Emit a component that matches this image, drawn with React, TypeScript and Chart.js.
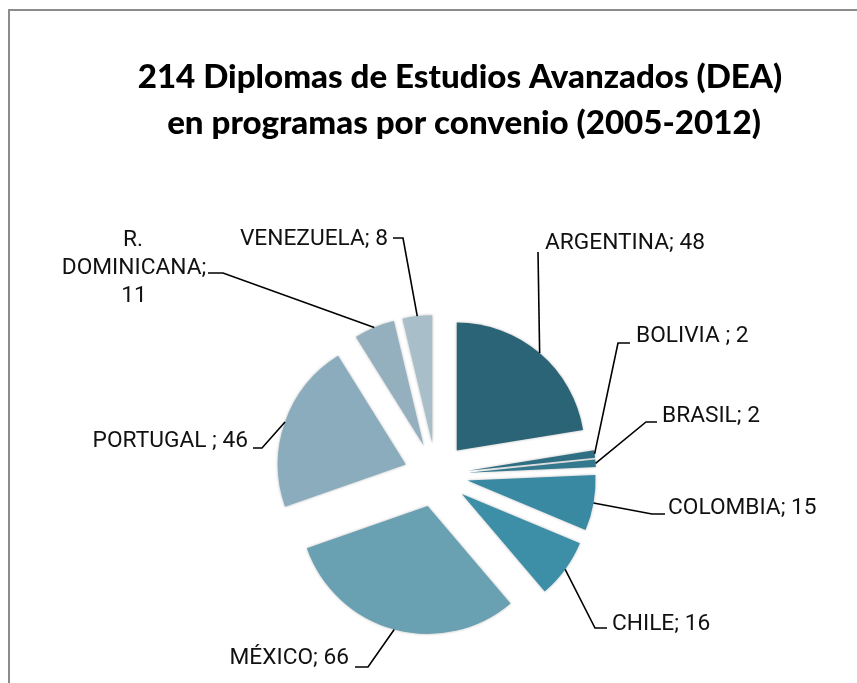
import React, { useEffect, useRef } from "react";
import { Chart, registerables } from "chart.js";

Chart.register(...registerables);

const titleLines = [
  "214 Diplomas de Estudios Avanzados (DEA)",
  "en programas por convenio (2005-2012)",
];
const categories = [
  "ARGENTINA",
  "BOLIVIA ",
  "BRASIL",
  "COLOMBIA",
  "CHILE",
  "MÉXICO",
  "PORTUGAL ",
  "R. DOMINICANA",
  "VENEZUELA",
];
const values = [48, 2, 2, 15, 16, 66, 46, 11, 8];
const colors = [
  "#2b6477",
  "#2f6f83",
  "#33788d",
  "#3a89a2",
  "#3d8fa8",
  "#6aa1b2",
  "#8aacbc",
  "#94b0be",
  "#a8bec8",
];

// ---- layout (positions / sizes) ----
const EXPLODE = 32;
const RADIUS = 128;
const TITLE_FONT = "Lato, 'Open Sans', sans-serif";
const LABEL_FONT = "Roboto, 'Open Sans', sans-serif";

type LabelLayout = {
  tx: number;
  ty: number;
  align: CanvasTextAlign;
  path: [number, number][];
  lineGap?: number;
  centers?: number[];
};

const labelLayout: LabelLayout[] = [
  { tx: 545, ty: 243, align: "left", path: [[538, 252]] },
  { tx: 636, ty: 336, align: "left", path: [[618, 343], [630, 343]] },
  { tx: 662, ty: 416, align: "left", path: [[646, 422], [657, 422]] },
  { tx: 668, ty: 508, align: "left", path: [[652, 514], [665, 514]] },
  { tx: 612, ty: 624, align: "left", path: [[595, 628], [607, 628]] },
  { tx: 349, ty: 658, align: "right", path: [[368, 667], [355, 667]] },
  { tx: 248, ty: 441, align: "right", path: [[262, 448], [253, 448]] },
  { tx: 134, ty: 240, align: "center", path: [[223, 273], [208, 273]], lineGap: 28, centers: [133, 134, 134] },
  { tx: 388, ty: 239, align: "right", path: [[403, 238], [393, 238]] },
];

const explodePlugin = {
  id: "explodeSlices",
  beforeDatasetDraw(chart: any, args: any) {
    const ctx: CanvasRenderingContext2D = chart.ctx;
    args.meta.data.forEach((arc: any) => {
      const mid = (arc.startAngle + arc.endAngle) / 2;
      ctx.save();
      ctx.shadowColor = "rgba(0,0,0,0.28)";
      ctx.shadowBlur = 3;
      ctx.translate(Math.cos(mid) * EXPLODE, Math.sin(mid) * EXPLODE);
      arc.draw(ctx, chart.chartArea);
      ctx.restore();
    });
    return false;
  },
};

const labelPlugin = {
  id: "sliceLabels",
  afterDraw(chart: any) {
    const ctx: CanvasRenderingContext2D = chart.ctx;
    // title
    ctx.save();
    ctx.fillStyle = "#000";
    ctx.textAlign = "center";
    ctx.textBaseline = "middle";
    ctx.font = `900 100px ${TITLE_FONT}`;
    const tw = ctx.measureText(titleLines[0]).width;
    const tSize = (100 * 645) / tw;
    ctx.font = `900 ${tSize}px ${TITLE_FONT}`;
    ctx.fillText(titleLines[0], 460, 77);
    ctx.fillText(titleLines[1], 464, 123);
    ctx.restore();

    // labels
    ctx.save();
    ctx.font = `100px ${LABEL_FONT}`;
    const lw = ctx.measureText("ARGENTINA; 48").width;
    const lSize = (100 * 160) / lw;
    ctx.font = `${lSize}px ${LABEL_FONT}`;
    ctx.fillStyle = "#111";
    ctx.strokeStyle = "#000";
    ctx.lineWidth = 1.6;
    ctx.textBaseline = "middle";
    const meta = chart.getDatasetMeta(0);
    meta.data.forEach((arc: any, i: number) => {
      const L = labelLayout[i];
      const mid = (arc.startAngle + arc.endAngle) / 2;
      const ax = arc.x + Math.cos(mid) * (EXPLODE + arc.outerRadius);
      const ay = arc.y + Math.sin(mid) * (EXPLODE + arc.outerRadius);
      ctx.beginPath();
      ctx.moveTo(ax, ay);
      L.path.forEach(([px, py]) => ctx.lineTo(px, py));
      ctx.stroke();
      const text = `${categories[i]}; ${values[i]}`;
      if (L.centers) {
        const words = text.split(" ");
        ctx.textAlign = "center";
        words.forEach((w, k) => {
          ctx.fillText(w, L.centers![k], L.ty + k * (L.lineGap || 28));
        });
      } else {
        ctx.textAlign = L.align;
        ctx.fillText(text, L.tx, L.ty);
      }
    });
    ctx.restore();
  },
};

export default function App() {
  const ref = useRef<HTMLCanvasElement | null>(null);
  useEffect(() => {
    if (!ref.current) return;
    const chart = new Chart(ref.current, {
      type: "pie",
      data: {
        labels: categories,
        datasets: [
          {
            data: values,
            backgroundColor: colors,
            borderWidth: 0,
          },
        ],
      },
      options: {
        responsive: false,
        maintainAspectRatio: false,
        animation: false,
        radius: RADIUS,
        layout: { padding: { left: 100, right: 85, top: 300, bottom: 33 } },
        plugins: {
          legend: { display: false },
          tooltip: { enabled: false },
          title: { display: false },
        },
        events: [],
      } as any,
      plugins: [explodePlugin, labelPlugin],
    });
    return () => chart.destroy();
  }, []);
  return (
    <div
      style={{
        position: "fixed",
        left: 0,
        top: 0,
        width: 857,
        height: 683,
        overflow: "hidden",
        background: "#fff",
      }}
    >
      <div
        style={{
          position: "absolute",
          left: 8,
          top: 9,
          width: 900,
          height: 700,
          borderLeft: "2px solid #8c8c8c",
          borderTop: "2px solid #8c8c8c",
        }}
      />
      <canvas
        ref={ref}
        width={857}
        height={683}
        style={{ position: "absolute", left: 0, top: 0, width: 857, height: 683 }}
      />
    </div>
  );
}
